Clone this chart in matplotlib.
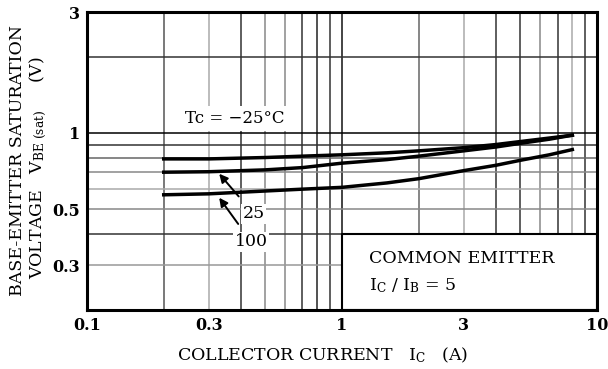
import matplotlib.pyplot as plt

plt.rcParams['font.family'] = ['DejaVu Serif']
plt.rcParams['mathtext.fontset'] = 'dejavuserif'

# collector current (A) and VBE(sat) (V)
ic = [0.2, 0.3, 0.5, 0.7, 1.0, 1.5, 2.0, 3.0, 4.0, 5.0, 6.5, 8.0]
vbe_m25 = [0.79, 0.79, 0.80, 0.81, 0.82, 0.835, 0.85, 0.875, 0.90, 0.925, 0.955, 0.98]
vbe_25 = [0.70, 0.703, 0.715, 0.73, 0.76, 0.785, 0.81, 0.85, 0.88, 0.91, 0.945, 0.98]
vbe_100 = [0.57, 0.575, 0.59, 0.60, 0.61, 0.635, 0.66, 0.71, 0.745, 0.78, 0.82, 0.86]

x_ticks = [0.1, 0.3, 1, 3, 10]
y_ticks = [0.3, 0.5, 1, 3]

# grid lines (value, shade)
vgrid = [(0.2, '#555'), (0.3, '#aaa'), (0.4, '#333'), (0.5, '#888'), (0.6, '#888'),
         (0.7, '#333'), (0.8, '#222'), (0.9, '#333'), (1, '#111'),
         (2, '#666'), (3, '#aaa'), (4, '#333'), (5, '#333'), (6, '#888'),
         (7, '#333'), (8, '#aaa'), (9, '#333')]
hgrid = [(2, '#333'), (1, '#000'), (0.9, '#333'), (0.8, '#666'), (0.7, '#888'),
         (0.6, '#aaa'), (0.5, '#888'), (0.4, '#333'), (0.3, '#999')]

fig = plt.figure(figsize=(6.08, 3.69), dpi=100)
ax = fig.add_axes([0.143, 0.160, 0.839, 0.807])
ax.set_xscale('log')
ax.set_yscale('log')
ax.set_xlim(0.1, 10)
ax.set_ylim(0.2, 3)

for v, c in vgrid:
    ax.axvline(v, color=c, lw=1.1, zorder=1)
for v, c in hgrid:
    ax.axhline(v, color=c, lw=1.1, zorder=1)

ax.plot(ic, vbe_m25, color='black', lw=2.5, zorder=4)
ax.plot(ic, vbe_25, color='black', lw=2.5, zorder=4)
ax.plot(ic, vbe_100, color='black', lw=2.5, zorder=4)

bbox = dict(facecolor='white', edgecolor='none', pad=1)
ax.text(0.38, 1.14, 'Tc = \u221225\u00b0C', fontsize=12, ha='center', va='center',
        bbox=dict(facecolor='white', edgecolor='none', pad=3), zorder=5)
ax.annotate('25', xy=(0.33, 0.69), xytext=(0.45, 0.48), fontsize=12.5,
            ha='center', va='center', bbox=bbox, zorder=5,
            arrowprops=dict(arrowstyle='-|>', color='black', lw=1.4, shrinkA=7, shrinkB=0))
ax.annotate('100', xy=(0.33, 0.555), xytext=(0.44, 0.372), fontsize=12.5,
            ha='center', va='center', bbox=bbox, zorder=5,
            arrowprops=dict(arrowstyle='-|>', color='black', lw=1.4, shrinkA=7, shrinkB=0))

# white box bottom right
ax.fill_between([1, 10], 0.2, 0.4, facecolor='white', edgecolor='black', lw=1.5, zorder=3)
ax.text(1.28, 0.32, 'COMMON EMITTER', fontsize=12.5, va='center', zorder=5)
ax.text(1.28, 0.25, r'I$_\mathrm{C}$ / I$_\mathrm{B}$ = 5', fontsize=12.5, va='center', zorder=5)

ax.set_xticks(x_ticks)
ax.set_xticklabels(['0.1', '0.3', '1', '3', '10'])
ax.set_yticks(y_ticks)
ax.set_yticklabels(['0.3', '0.5', '1', '3'])
ax.minorticks_off()
ax.tick_params(length=0, labelsize=11.5, pad=5)
for lab in ax.get_xticklabels() + ax.get_yticklabels():
    lab.set_fontweight('bold')
for s in ax.spines.values():
    s.set_linewidth(2.2)
    s.set_zorder(6)

fig.text(0.53, 0.038, r'COLLECTOR CURRENT   I$_\mathrm{C}$   (A)', fontsize=12.5,
         ha='center', va='center')
fig.text(0.028, 0.564, 'BASE-EMITTER SATURATION', rotation=90, fontsize=12.5,
         ha='center', va='center')
fig.text(0.062, 0.545, r'VOLTAGE   V$_\mathrm{BE\ (sat)}$     (V)', rotation=90, fontsize=12.5,
         ha='center', va='center')

fig.savefig('out.png', dpi=100)
